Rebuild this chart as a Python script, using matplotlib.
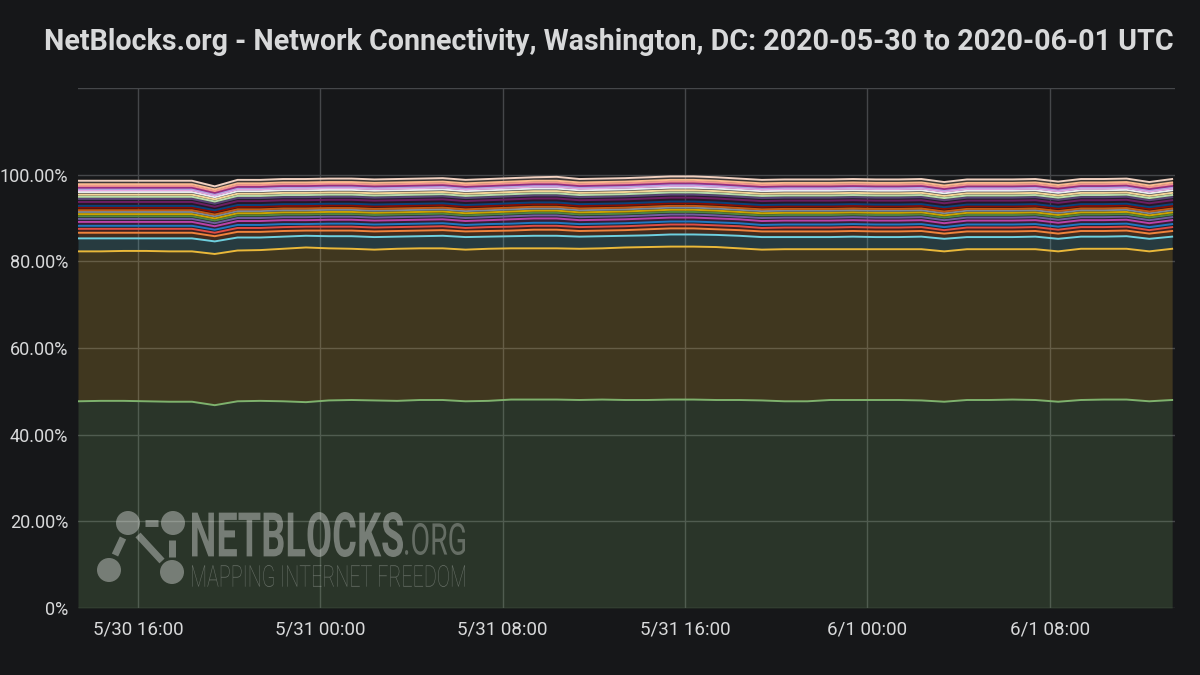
import numpy as np
import matplotlib
matplotlib.use("Agg")
import matplotlib.pyplot as plt
from matplotlib.textpath import TextPath
from matplotlib.patches import PathPatch, Circle
from matplotlib.font_manager import FontProperties
from matplotlib.transforms import Affine2D
from matplotlib.lines import Line2D

# hourly samples, 2020-05-30 13:22 .. 2020-06-01 13:22 UTC
start = np.datetime64('2020-05-30T13:22')
times = start + np.arange(49) * np.timedelta64(60, 'm')

# share of connectivity per network (percent), stacked bottom -> top
green_share = [47.7, 47.8, 47.8, 47.7, 47.6, 47.6, 46.8,
               47.7, 47.8, 47.7, 47.5, 47.9, 48.0, 47.9,
               47.8, 48.0, 48.0, 47.7, 47.8, 48.1, 48.1,
               48.1, 48.0, 48.1, 48.0, 48.0, 48.1, 48.1,
               48.0, 48.0, 47.9, 47.7, 47.7, 48.0, 48.0,
               48.0, 48.0, 47.9, 47.6, 48.0, 48.0, 48.1,
               48.0, 47.6, 48.0, 48.1, 48.1, 47.7, 48.0]
yellow_share = [34.6, 34.5, 34.6, 34.7, 34.7, 34.7, 34.9,
                34.8, 34.8, 35.2, 35.7, 35.1, 34.9, 34.8,
                35.1, 35.0, 35.0, 35.0, 35.1, 34.9, 34.9,
                34.9, 34.9, 34.9, 35.2, 35.3, 35.3, 35.3,
                35.3, 35.0, 34.8, 35.1, 35.1, 34.8, 34.8,
                34.8, 34.8, 34.9, 34.7, 34.8, 34.8, 34.7,
                34.8, 34.7, 34.9, 34.8, 34.8, 34.6, 34.9]
cyan_share = [3.0, 3.0, 2.9, 2.9, 3.0, 3.0, 2.9,
              3.0, 2.9, 2.8, 2.7, 2.8, 2.9, 2.9,
              2.8, 2.8, 2.9, 2.9, 2.8, 2.8, 2.9,
              2.9, 2.8, 2.8, 2.7, 2.7, 2.8, 2.8,
              2.8, 2.9, 2.9, 2.8, 2.8, 2.8, 2.9,
              2.8, 2.8, 2.9, 2.9, 2.8, 2.8, 2.8,
              2.9, 2.9, 2.8, 2.8, 2.9, 2.9, 2.8]
orange_share = [1.3, 1.3, 1.3, 1.3, 1.3, 1.3, 1.2,
                1.3, 1.3, 1.3, 1.2, 1.3, 1.3, 1.3,
                1.3, 1.3, 1.3, 1.3, 1.3, 1.3, 1.4,
                1.4, 1.3, 1.3, 1.3, 1.4, 1.4, 1.4,
                1.3, 1.3, 1.3, 1.3, 1.3, 1.3, 1.3,
                1.3, 1.3, 1.3, 1.2, 1.3, 1.3, 1.3,
                1.3, 1.2, 1.3, 1.3, 1.3, 1.2, 1.3]
red_share = [0.9, 0.9, 0.9, 0.9, 0.9, 0.9, 0.8,
             0.9, 0.9, 0.9, 0.9, 0.9, 0.9, 0.9,
             0.9, 0.9, 0.9, 0.8, 0.9, 0.9, 0.9,
             0.9, 0.9, 0.9, 0.9, 0.9, 0.9, 0.9,
             0.9, 0.9, 0.8, 0.9, 0.9, 0.9, 0.9,
             0.9, 0.9, 0.9, 0.8, 0.9, 0.9, 0.9,
             0.9, 0.9, 0.9, 0.9, 0.9, 0.8, 0.9]
blue_share = [0.7, 0.7, 0.7, 0.7, 0.7, 0.7, 0.7,
              0.7, 0.7, 0.7, 0.6, 0.7, 0.7, 0.7,
              0.7, 0.7, 0.7, 0.7, 0.7, 0.7, 0.7,
              0.7, 0.7, 0.7, 0.7, 0.7, 0.7, 0.7,
              0.7, 0.7, 0.7, 0.7, 0.7, 0.7, 0.7,
              0.7, 0.7, 0.7, 0.7, 0.7, 0.7, 0.7,
              0.7, 0.7, 0.7, 0.7, 0.7, 0.7, 0.7]
purple_share = [0.9, 0.9, 0.9, 0.9, 0.9, 0.9, 0.8,
                0.9, 0.9, 0.9, 0.9, 0.9, 0.9, 0.9,
                0.9, 0.9, 0.9, 0.9, 0.9, 1.0, 1.0,
                1.0, 0.9, 0.9, 0.9, 0.9, 0.9, 0.9,
                0.9, 0.9, 0.9, 0.9, 0.9, 0.9, 0.9,
                0.9, 0.9, 0.9, 0.9, 0.9, 0.9, 0.9,
                0.9, 0.9, 0.9, 0.9, 0.9, 0.9, 0.9]
violet_share = [0.7, 0.7, 0.7, 0.7, 0.7, 0.7, 0.7,
                0.7, 0.7, 0.7, 0.7, 0.7, 0.7, 0.7,
                0.7, 0.7, 0.7, 0.7, 0.7, 0.7, 0.7,
                0.7, 0.7, 0.7, 0.7, 0.7, 0.7, 0.7,
                0.7, 0.6, 0.7, 0.7, 0.7, 0.7, 0.7,
                0.7, 0.7, 0.7, 0.7, 0.7, 0.7, 0.7,
                0.7, 0.7, 0.7, 0.7, 0.7, 0.7, 0.7]
olive_share = [0.6, 0.6, 0.6, 0.6, 0.6, 0.6, 0.6,
               0.6, 0.6, 0.6, 0.6, 0.6, 0.6, 0.6,
               0.6, 0.6, 0.6, 0.6, 0.6, 0.6, 0.6,
               0.6, 0.6, 0.6, 0.6, 0.6, 0.6, 0.6,
               0.6, 0.6, 0.6, 0.6, 0.6, 0.6, 0.6,
               0.6, 0.6, 0.6, 0.6, 0.6, 0.6, 0.6,
               0.6, 0.6, 0.6, 0.6, 0.6, 0.6, 0.6]
gold_share = [0.5, 0.5, 0.5, 0.5, 0.5, 0.5, 0.5,
              0.5, 0.5, 0.5, 0.5, 0.5, 0.5, 0.5,
              0.5, 0.5, 0.5, 0.5, 0.5, 0.5, 0.5,
              0.5, 0.5, 0.5, 0.5, 0.5, 0.5, 0.5,
              0.5, 0.5, 0.5, 0.5, 0.5, 0.5, 0.5,
              0.5, 0.5, 0.5, 0.5, 0.5, 0.5, 0.5,
              0.5, 0.5, 0.5, 0.5, 0.5, 0.5, 0.5]
steel_share = [0.5, 0.5, 0.5, 0.5, 0.5, 0.5, 0.5,
               0.5, 0.5, 0.5, 0.5, 0.5, 0.5, 0.5,
               0.5, 0.5, 0.5, 0.5, 0.5, 0.5, 0.5,
               0.5, 0.5, 0.5, 0.5, 0.5, 0.5, 0.5,
               0.5, 0.5, 0.5, 0.5, 0.5, 0.5, 0.5,
               0.5, 0.5, 0.5, 0.5, 0.5, 0.5, 0.5,
               0.5, 0.5, 0.5, 0.5, 0.5, 0.5, 0.5]
rust_share = [0.4, 0.4, 0.4, 0.4, 0.4, 0.4, 0.4,
              0.4, 0.4, 0.4, 0.4, 0.4, 0.4, 0.4,
              0.4, 0.4, 0.4, 0.4, 0.4, 0.4, 0.4,
              0.4, 0.4, 0.4, 0.4, 0.4, 0.4, 0.4,
              0.4, 0.4, 0.4, 0.4, 0.4, 0.4, 0.4,
              0.4, 0.4, 0.4, 0.4, 0.4, 0.4, 0.4,
              0.4, 0.4, 0.4, 0.4, 0.4, 0.4, 0.4]
maroon_share = [0.6, 0.6, 0.6, 0.6, 0.6, 0.6, 0.6,
                0.6, 0.6, 0.6, 0.6, 0.6, 0.6, 0.6,
                0.6, 0.6, 0.6, 0.6, 0.6, 0.6, 0.6,
                0.6, 0.6, 0.6, 0.6, 0.6, 0.6, 0.6,
                0.6, 0.6, 0.6, 0.6, 0.6, 0.6, 0.6,
                0.6, 0.6, 0.6, 0.6, 0.6, 0.6, 0.6,
                0.6, 0.6, 0.6, 0.6, 0.6, 0.6, 0.6]
navy_share = [0.4, 0.4, 0.4, 0.4, 0.4, 0.4, 0.4,
              0.4, 0.4, 0.4, 0.4, 0.4, 0.4, 0.4,
              0.4, 0.4, 0.4, 0.4, 0.4, 0.4, 0.4,
              0.4, 0.4, 0.4, 0.4, 0.4, 0.4, 0.4,
              0.4, 0.4, 0.4, 0.4, 0.4, 0.4, 0.4,
              0.4, 0.4, 0.4, 0.4, 0.4, 0.4, 0.4,
              0.4, 0.4, 0.4, 0.4, 0.4, 0.4, 0.4]
plum_share = [0.9, 0.9, 0.9, 0.9, 0.9, 0.9, 0.8,
              0.9, 0.9, 0.9, 0.9, 0.9, 0.9, 0.9,
              0.9, 0.9, 0.9, 0.9, 0.9, 0.9, 0.9,
              0.9, 0.9, 0.9, 0.9, 0.9, 0.9, 0.9,
              0.9, 0.9, 0.9, 0.9, 0.9, 0.9, 0.9,
              0.9, 0.9, 0.9, 0.9, 0.9, 0.9, 0.9,
              0.9, 0.9, 0.9, 0.9, 0.9, 0.9, 0.9]
grape_share = [0.7, 0.7, 0.7, 0.7, 0.7, 0.7, 0.7,
               0.7, 0.7, 0.7, 0.7, 0.7, 0.7, 0.7,
               0.7, 0.7, 0.7, 0.7, 0.7, 0.7, 0.7,
               0.7, 0.7, 0.7, 0.7, 0.7, 0.7, 0.7,
               0.7, 0.7, 0.7, 0.7, 0.7, 0.7, 0.7,
               0.7, 0.7, 0.7, 0.7, 0.7, 0.7, 0.7,
               0.7, 0.7, 0.7, 0.7, 0.7, 0.7, 0.7]
mint_share = [0.5, 0.5, 0.5, 0.5, 0.5, 0.5, 0.5,
              0.5, 0.5, 0.5, 0.5, 0.5, 0.5, 0.5,
              0.5, 0.5, 0.5, 0.5, 0.5, 0.5, 0.5,
              0.5, 0.5, 0.5, 0.5, 0.5, 0.5, 0.5,
              0.5, 0.5, 0.5, 0.5, 0.5, 0.5, 0.5,
              0.5, 0.5, 0.5, 0.5, 0.5, 0.5, 0.5,
              0.5, 0.5, 0.5, 0.5, 0.5, 0.5, 0.5]
sand_share = [0.5, 0.5, 0.5, 0.5, 0.5, 0.5, 0.5,
              0.5, 0.5, 0.5, 0.5, 0.5, 0.5, 0.5,
              0.5, 0.5, 0.5, 0.5, 0.5, 0.5, 0.5,
              0.5, 0.5, 0.5, 0.5, 0.5, 0.5, 0.5,
              0.5, 0.5, 0.5, 0.5, 0.5, 0.5, 0.5,
              0.5, 0.5, 0.5, 0.5, 0.5, 0.5, 0.5,
              0.5, 0.5, 0.5, 0.5, 0.5, 0.5, 0.5]
ice_share = [0.6, 0.6, 0.6, 0.6, 0.6, 0.6, 0.5,
             0.6, 0.6, 0.6, 0.6, 0.6, 0.6, 0.6,
             0.6, 0.6, 0.6, 0.6, 0.6, 0.6, 0.6,
             0.6, 0.6, 0.6, 0.6, 0.6, 0.6, 0.6,
             0.6, 0.6, 0.6, 0.6, 0.6, 0.6, 0.6,
             0.6, 0.6, 0.6, 0.6, 0.6, 0.6, 0.6,
             0.6, 0.6, 0.6, 0.6, 0.6, 0.6, 0.6]
rose_share = [0.4, 0.4, 0.4, 0.4, 0.4, 0.4, 0.4,
              0.4, 0.4, 0.4, 0.4, 0.4, 0.4, 0.4,
              0.4, 0.4, 0.4, 0.4, 0.4, 0.4, 0.4,
              0.4, 0.4, 0.4, 0.4, 0.4, 0.4, 0.4,
              0.4, 0.4, 0.4, 0.4, 0.4, 0.4, 0.4,
              0.4, 0.4, 0.4, 0.4, 0.4, 0.4, 0.4,
              0.4, 0.4, 0.4, 0.4, 0.4, 0.4, 0.4]
lavender_share = [0.3, 0.3, 0.3, 0.3, 0.3, 0.3, 0.3,
                  0.3, 0.3, 0.3, 0.3, 0.3, 0.3, 0.3,
                  0.3, 0.3, 0.3, 0.3, 0.3, 0.3, 0.3,
                  0.3, 0.3, 0.3, 0.3, 0.3, 0.3, 0.3,
                  0.3, 0.3, 0.3, 0.3, 0.3, 0.3, 0.3,
                  0.3, 0.3, 0.3, 0.3, 0.3, 0.3, 0.3,
                  0.3, 0.3, 0.3, 0.3, 0.3, 0.3, 0.3]
magenta_share = [0.3, 0.3, 0.3, 0.3, 0.3, 0.3, 0.3,
                 0.3, 0.3, 0.3, 0.3, 0.3, 0.3, 0.3,
                 0.3, 0.3, 0.3, 0.3, 0.3, 0.3, 0.3,
                 0.3, 0.3, 0.3, 0.3, 0.3, 0.3, 0.3,
                 0.3, 0.3, 0.3, 0.3, 0.3, 0.3, 0.3,
                 0.3, 0.3, 0.3, 0.3, 0.3, 0.3, 0.3,
                 0.3, 0.3, 0.3, 0.3, 0.3, 0.3, 0.3]
pink_share = [0.4, 0.4, 0.4, 0.4, 0.4, 0.4, 0.4,
              0.4, 0.4, 0.4, 0.4, 0.4, 0.4, 0.4,
              0.4, 0.4, 0.4, 0.4, 0.4, 0.4, 0.4,
              0.4, 0.4, 0.4, 0.4, 0.4, 0.4, 0.4,
              0.4, 0.4, 0.4, 0.4, 0.4, 0.4, 0.4,
              0.4, 0.4, 0.4, 0.4, 0.4, 0.4, 0.4,
              0.4, 0.4, 0.4, 0.4, 0.4, 0.4, 0.4]
apricot_share = [0.4, 0.4, 0.4, 0.4, 0.4, 0.4, 0.4,
                 0.4, 0.4, 0.4, 0.4, 0.4, 0.4, 0.4,
                 0.4, 0.4, 0.4, 0.4, 0.4, 0.4, 0.4,
                 0.4, 0.4, 0.4, 0.4, 0.4, 0.4, 0.4,
                 0.4, 0.4, 0.4, 0.4, 0.4, 0.4, 0.4,
                 0.4, 0.4, 0.4, 0.4, 0.4, 0.4, 0.4,
                 0.4, 0.4, 0.4, 0.4, 0.4, 0.4, 0.4]
peach_share = [0.8, 0.8, 0.8, 0.8, 0.8, 0.8, 0.7,
               0.8, 0.8, 0.8, 0.8, 0.8, 0.8, 0.8,
               0.8, 0.8, 0.8, 0.8, 0.8, 0.8, 0.8,
               0.9, 0.8, 0.8, 0.8, 0.8, 0.8, 0.8,
               0.8, 0.8, 0.8, 0.8, 0.8, 0.8, 0.8,
               0.8, 0.8, 0.8, 0.8, 0.8, 0.8, 0.8,
               0.8, 0.8, 0.8, 0.8, 0.8, 0.8, 0.8]

tick_times = ['2020-05-30T16:00', '2020-05-31T00:00', '2020-05-31T08:00',
              '2020-05-31T16:00', '2020-06-01T00:00', '2020-06-01T08:00']
tick_labels = ['5/30 16:00', '5/31 00:00', '5/31 08:00',
               '5/31 16:00', '6/1 00:00', '6/1 08:00']
y_ticks = [0, 20, 40, 60, 80, 100, 120]
y_labels = ['0%', '20.00%', '40.00%', '60.00%', '80.00%', '100.00%', '']

title = 'NetBlocks.org - Network Connectivity, Washington, DC: 2020-05-30 to 2020-06-01 UTC'

series = [green_share, yellow_share, cyan_share, orange_share, red_share,
          blue_share, purple_share, violet_share, olive_share, gold_share,
          steel_share, rust_share, maroon_share, navy_share, plum_share,
          grape_share, mint_share, sand_share, ice_share, rose_share,
          lavender_share, magenta_share, pink_share, apricot_share, peach_share]
colors = ['#7EB26D', '#EAB839', '#6ED0E0', '#EF843C', '#E24D42',
          '#1F78C1', '#BA43A9', '#705DA0', '#508642', '#CCA300',
          '#7a8a99', '#C15C17', '#890F02', '#0A437C', '#6D1F62',
          '#584477', '#B7DBAB', '#F4D598', '#E8EEF0', '#E5A8E2',
          '#AEA2E0', '#962D82', '#F29191', '#F9BA8F', '#F0D0C0']

BG = '#161719'
TXT = '#d8d9da'
plt.rcParams['font.family'] = ['Roboto', 'DejaVu Sans']

fig = plt.figure(figsize=(12, 6.75), dpi=100, facecolor=BG)
ax = fig.add_axes([0.065, 0.0993, 0.914, 0.7703])
ax.set_facecolor(BG)

x = times.astype('datetime64[m]').astype(object)
lower = np.zeros(len(times))
for vals, col in zip(series, colors):
    upper = lower + np.array(vals)
    ax.fill_between(x, lower, upper, color=col, alpha=0.2, linewidth=0, zorder=2)
    ax.plot(x, upper, color=col, lw=1.4, zorder=3)
    lower = upper

t_left = np.datetime64('2020-05-30T13:22').astype(object)
t_right = (np.datetime64('2020-05-30T13:22') + np.timedelta64(2887, 'm')).astype(object)
ax.set_xlim(t_left, t_right)
ax.set_ylim(0, 120)
ax.set_xticks([np.datetime64(t).astype(object) for t in tick_times])
ax.set_xticklabels(tick_labels)
ax.set_yticks(y_ticks)
ax.set_yticklabels(y_labels)
ax.grid(True, color='#45474a', lw=1, zorder=1)
ax.set_axisbelow(True)
for s in ax.spines.values():
    s.set_visible(False)
ax.tick_params(length=0, colors=TXT)
ax.tick_params(axis='y', pad=7, labelsize=13)
ax.tick_params(axis='x', pad=9, labelsize=13.5)

fig.text(0.507, 0.938, title, ha='center', va='center', color=TXT,
         fontsize=20.6, fontweight='bold')

# watermark, drawn in pixel coordinates
H = 675
wm = (1, 1, 1, 0.36)
wm2 = (1, 1, 1, 0.28)


def squeeze_text(s, weight, left, top, width, height, rgba):
    tp = TextPath((0, 0), s, size=1, prop=FontProperties(family='Roboto', weight=weight))
    e = tp.get_extents()
    tr = (Affine2D().translate(-e.x0, -e.y0)
          .scale(width / e.width, height / e.height)
          .translate(left, H - top - height))
    fig.add_artist(PathPatch(tp, transform=tr, facecolor=rgba, edgecolor='none', zorder=10))


squeeze_text('NETBLOCKS', 'bold', 192, 512, 211, 45, wm)
squeeze_text('.ORG', 'normal', 405, 523, 60, 32, wm2)
squeeze_text('MAPPING INTERNET FREEDOM', 'light', 192, 565, 273, 22, wm2)

for cx, cy in [(128, 523), (173, 523), (109, 570), (172, 572)]:
    fig.add_artist(Circle((cx, H - cy), 12, transform=Affine2D(),
                          facecolor=wm, edgecolor='none', zorder=10))
for (x0, y0), (x1, y1) in [((145, 523), (158, 523)), ((123, 538), (115, 555)),
                           ((138, 535), (162, 561)), ((172, 540), (172, 557))]:
    fig.add_artist(Line2D([x0, x1], [H - y0, H - y1], transform=Affine2D(),
                          color=wm, lw=5, solid_capstyle='butt', zorder=10))

fig.savefig('out.png', dpi=100, facecolor=BG)
